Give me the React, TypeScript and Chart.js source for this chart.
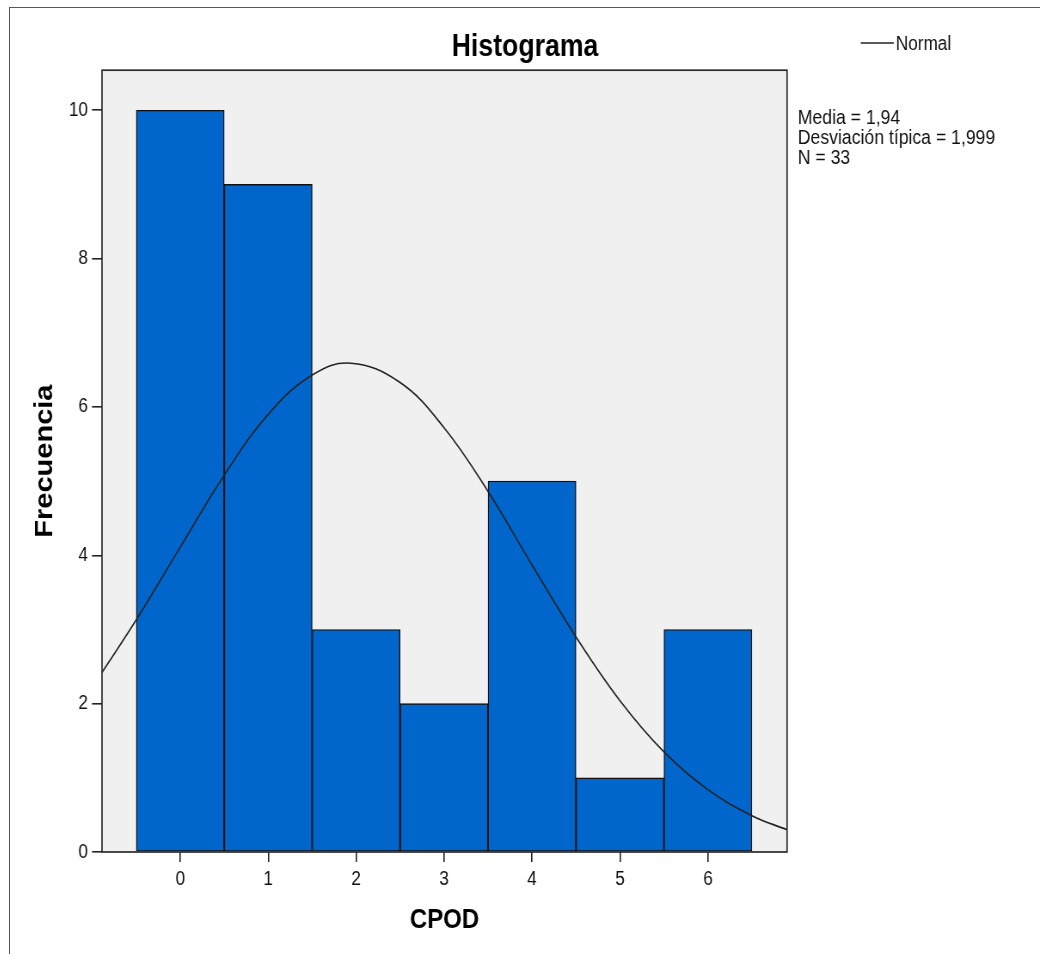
import React, { useEffect, useRef } from "react";
import { Chart, registerables } from "chart.js";

Chart.register(...registerables);

const categories = [0, 1, 2, 3, 4, 5, 6];
const frequencies = [10, 9, 3, 2, 5, 1, 3];
const xTickValues = [0, 1, 2, 3, 4, 5, 6];
const yTickValues = [0, 2, 4, 6, 8, 10];
const curveX = [-0.89, -0.5, 0, 0.5, 1, 1.5, 1.94, 2.5, 3, 3.5, 4, 4.5, 5, 5.5, 6, 6.5, 6.9];
const curveY = [2.42, 3.13, 4.11, 5.08, 5.9, 6.43, 6.59, 6.33, 5.72, 4.86, 3.87, 2.9, 2.04, 1.35, 0.84, 0.49, 0.3];
const statsLines = ["Media = 1,94", "Desviación típica = 1,999", "N = 33"];
const legendLabel = "Normal";
const chartTitle = "Histograma";
const xTitle = "CPOD";
const yTitle = "Frecuencia";

const FONT = "'Liberation Sans', Arial, sans-serif";

// The picture is horizontally condensed: the canvas is drawn wider and shown at 0.86 of its width.
const SX = 0.86;
const CSS_W = 1030;
const CSS_H = 946;
const INT_W = Math.round(CSS_W / SX);
const hx = (v: number) => v / SX;

const framePlugin = {
  id: "frame",
  beforeDatasetsDraw(chart: any) {
    const { ctx, chartArea: a } = chart;
    ctx.save();
    ctx.fillStyle = "#f0f0f0";
    ctx.fillRect(a.left, a.top, a.right - a.left, a.bottom - a.top);
    ctx.restore();
  },
  afterDatasetsDraw(chart: any) {
    const { ctx, chartArea: a } = chart;
    ctx.save();
    ctx.strokeStyle = "#2a2a2a";
    ctx.lineWidth = 1.7;
    ctx.strokeRect(a.left, a.top, a.right - a.left, a.bottom - a.top);
    ctx.restore();
  },
  afterDraw(chart: any) {
    const { ctx } = chart;
    ctx.save();
    ctx.strokeStyle = "#222";
    ctx.lineWidth = 1.5;
    ctx.beginPath();
    ctx.moveTo(hx(851), 35);
    ctx.lineTo(hx(884), 35);
    ctx.stroke();
    ctx.fillStyle = "#111";
    ctx.font = `20px ${FONT}`;
    ctx.textBaseline = "middle";
    ctx.textAlign = "left";
    ctx.fillText(legendLabel, hx(886), 36);
    ctx.font = `20.5px ${FONT}`;
    ctx.textBaseline = "alphabetic";
    statsLines.forEach((t, i) => {
      ctx.fillText(t, hx(788), 116 + i * 20);
    });
    ctx.restore();
  },
};

export default function App() {
  const ref = useRef<HTMLCanvasElement | null>(null);

  useEffect(() => {
    document.body.style.margin = "0";
    document.documentElement.style.overflow = "hidden";
    const canvas = ref.current;
    if (!canvas) return;
    const chart = new Chart(canvas, {
      type: "bar",
      data: {
        datasets: [
          {
            type: "line",
            label: legendLabel,
            data: curveX.map((x, i) => ({ x, y: curveY[i] })),
            borderColor: "#222",
            borderWidth: 1.6,
            pointRadius: 0,
            tension: 0.4,
            fill: false,
            order: 0,
            yAxisID: "y",
          } as any,
          {
            type: "bar",
            label: "Frecuencia",
            data: categories.map((c, i) => ({ x: c, y: frequencies[i] })),
            backgroundColor: "#0066cc",
            borderColor: "#111",
            borderWidth: 1.4,
            borderSkipped: false,
            barPercentage: 1,
            categoryPercentage: 1,
            order: 1,
            yAxisID: "y",
          } as any,
        ],
      },
      options: {
        responsive: false,
        animation: false,
        devicePixelRatio: 1,
        layout: { padding: 0 },
        plugins: {
          legend: { display: false },
          tooltip: { enabled: false },
          title: {
            display: true,
            text: chartTitle,
            color: "#000",
            font: { family: FONT, size: 31, weight: "bold" },
            padding: { top: 21, bottom: 4 },
          },
        },
        scales: {
          x: {
            type: "linear",
            offset: false,
            min: -0.89,
            max: 6.9,
            afterBuildTicks: (s: any) => {
              s.ticks = xTickValues.map((v) => ({ value: v }));
            },
            afterFit: (s: any) => {
              s.height = 102;
            },
            grid: { offset: false, drawOnChartArea: false, drawTicks: true, tickLength: 10, color: "#222", lineWidth: 1.6 },
            border: { display: false },
            ticks: {
              color: "#111",
              padding: 5,
              maxRotation: 0,
              autoSkip: false,
              font: { family: FONT, size: 20 },
              callback: (v: any) => String(v),
            },
            title: {
              display: true,
              text: xTitle,
              color: "#000",
              font: { family: FONT, size: 28, weight: "bold" },
              padding: { top: 0, bottom: 17 },
            },
          },
          y: {
            type: "linear",
            min: 0,
            max: 10.54,
            afterBuildTicks: (s: any) => {
              s.ticks = yTickValues.map((v) => ({ value: v }));
            },
            afterFit: (s: any) => {
              s.width = hx(92);
            },
            grid: { drawOnChartArea: false, drawTicks: true, tickLength: hx(10), color: "#222", lineWidth: 1.6 },
            border: { display: false },
            ticks: {
              color: "#111",
              padding: hx(4),
              autoSkip: false,
              font: { family: FONT, size: 20 },
              callback: (v: any) => String(v),
            },
            title: {
              display: true,
              text: yTitle,
              color: "#000",
              font: { family: FONT, size: 29, weight: "bold" },
              padding: { top: hx(35) - 17.4, bottom: 0 },
            },
          },
          side: {
            type: "linear",
            position: "right",
            min: 0,
            max: 1,
            afterFit: (s: any) => {
              s.width = hx(253);
            },
            grid: { display: false },
            border: { display: false },
            ticks: { display: false },
          },
        },
      },
      plugins: [framePlugin],
    } as any);
    return () => chart.destroy();
  }, []);

  return (
    <div
      style={{
        position: "absolute",
        left: 9,
        top: 7,
        width: CSS_W + 1,
        height: CSS_H + 1,
        borderTop: "1px solid #555",
        borderLeft: "1px solid #555",
        background: "#fff",
      }}
    >
      <canvas
        ref={ref}
        width={INT_W}
        height={CSS_H}
        style={{ display: "block", width: CSS_W, height: CSS_H }}
      />
    </div>
  );
}
